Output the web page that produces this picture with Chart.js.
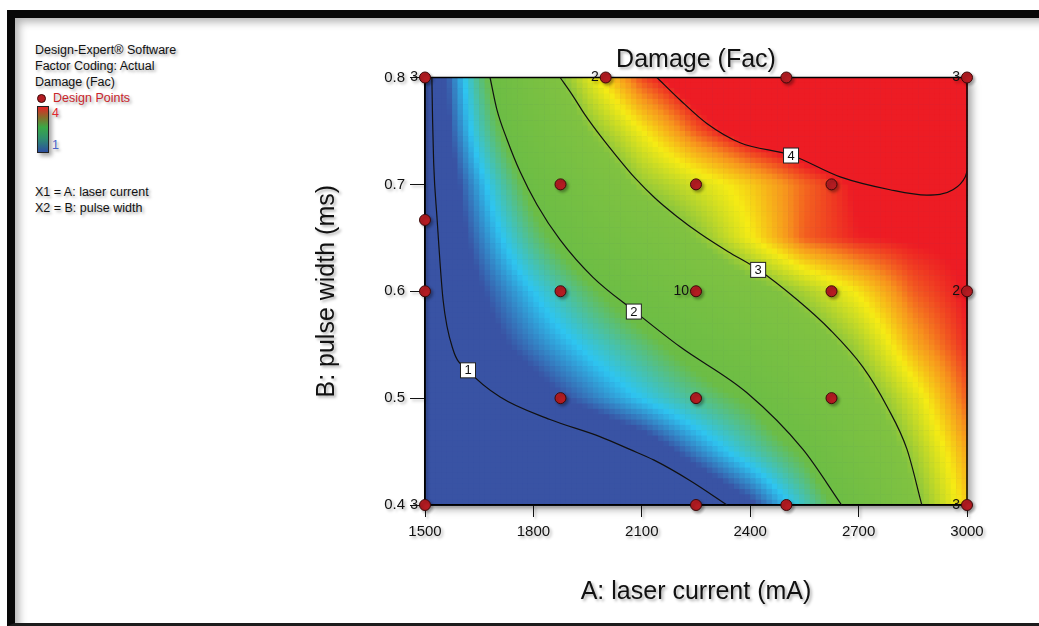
<!DOCTYPE html>
<html>
<head>
<meta charset="utf-8">
<script src="https://cdn.jsdelivr.net/npm/chart.js@4"></script>
<style>
html, body { margin: 0; padding: 0; background: #fff; }
body { width: 1039px; height: 626px; position: relative; overflow: hidden; font-family: "Liberation Sans", Arial, sans-serif; }
#marco { position: absolute; left: 7px; top: 10px; right: -20px; bottom: 0; border-top: 8px solid #080808; border-left: 8px solid #080808; border-bottom: 3px solid #1c1c1c; box-shadow: inset 7px 7px 9px -3px rgba(0,0,0,0.3); }
#lienzo { position: absolute; left: 0; top: 0; }
.nota { position: absolute; left: 35px; font-size: 12.5px; line-height: 16px; color: #111; white-space: nowrap; text-shadow: 2px 2px 3px rgba(0,0,0,0.35); }
#punto { position: absolute; left: 37px; top: 94px; width: 7px; height: 7px; border-radius: 50%; background: #b41c22; border: 1px solid #3c0a0a; }
#barra { position: absolute; left: 37px; top: 106px; width: 10px; height: 45px; border: 1px solid #222;
  background: linear-gradient(to bottom, #e52528 0%, #8a6a2a 22%, #3aa946 45%, #2f8f6e 70%, #2c4ea0 100%);
  box-shadow: 3px 3px 4px rgba(0,0,0,0.35); }
</style>
</head>
<body>
<div id="marco"></div>
<div class="nota" style="top:42px">Design-Expert® Software</div>
<div class="nota" style="top:58px">Factor Coding: Actual</div>
<div class="nota" style="top:74px">Damage (Fac)</div>
<div id="punto"></div>
<div class="nota" style="top:90px; left:53px; color:#c9252b">Design Points</div>
<div id="barra"></div>
<div class="nota" style="top:105px; left:52px; color:#e0282e">4</div>
<div class="nota" style="top:137px; left:52px; color:#4a64c8">1</div>
<div class="nota" style="top:184px">X1 = A: laser current</div>
<div class="nota" style="top:200px">X2 = B: pulse width</div>
<canvas id="lienzo" width="1039" height="626"></canvas>

<script>
// ejes de la rejilla (A = corriente, B = ancho de pulso)
const ejeA = [1500, 1650, 1800, 1950, 2100, 2250, 2400, 2550, 2700, 2850, 3000];
const ejeB = [0.4, 0.45, 0.5, 0.55, 0.6, 0.65, 0.7, 0.75, 0.8];
// valores estimados de Damage, una fila por cada valor de ejeB
const danio = [
    [0.50, 0.55, 0.60, 0.68, 0.78, 0.90, 1.20, 1.67, 2.21, 2.89, 3.50],
    [0.60, 0.68, 0.78, 0.88, 1.05, 1.37, 1.68, 1.99, 2.53, 3.07, 3.62],
    [0.75, 0.92, 1.12, 1.34, 1.56, 1.78, 1.99, 2.40, 2.82, 3.28, 3.80],
    [0.90, 1.12, 1.36, 1.60, 1.84, 2.11, 2.42, 2.74, 3.10, 3.60, 3.92],
    [0.90, 1.22, 1.55, 1.88, 2.19, 2.50, 2.80, 3.11, 3.43, 3.80, 3.97],
    [0.88, 1.35, 1.82, 2.24, 2.61, 2.97, 3.39, 3.80, 3.94, 3.97, 3.98],
    [0.87, 1.47, 2.06, 2.58, 3.04, 3.27, 3.50, 3.78, 3.98, 3.97, 4.02],
    [0.88, 1.67, 2.34, 2.96, 3.39, 3.81, 4.10, 4.22, 4.28, 4.28, 4.25],
    [0.88, 1.81, 2.61, 3.29, 3.85, 4.15, 4.30, 4.38, 4.42, 4.42, 4.38]
];

const ticksA = [1500, 1800, 2100, 2400, 2700, 3000];
const ticksB = [0.4, 0.5, 0.6, 0.7, 0.8];

// puntos de diseno
const puntosA = [1500, 2000, 2500, 3000, 1500, 1875, 2250, 2625, 1500, 1875, 2250, 2625, 3000, 1875, 2250, 2625, 1500, 2250, 2500, 3000];
const puntosB = [0.8, 0.8, 0.8, 0.8, 0.6667, 0.7, 0.7, 0.7, 0.6, 0.6, 0.6, 0.6, 0.6, 0.5, 0.5, 0.5, 0.4, 0.4, 0.4, 0.4];
const repeticiones = ['3', '2', '', '3', '', '', '', '', '', '', '10', '', '2', '', '', '', '3', '', '', '3'];

// curvas de nivel
const contorno1A = [1519, 1521, 1524, 1533, 1550, 1578, 1619, 1708, 1846, 1984, 2067, 2134, 2233, 2336];
const contorno1B = [0.8, 0.760, 0.720, 0.670, 0.592, 0.545, 0.526, 0.501, 0.480, 0.464, 0.452, 0.442, 0.423, 0.4];
const contorno2A = [1680, 1699, 1727, 1763, 1810, 1874, 1965, 2081, 2206, 2391, 2546, 2653];
const contorno2B = [0.8, 0.770, 0.742, 0.712, 0.681, 0.648, 0.613, 0.581, 0.548, 0.505, 0.452, 0.4];
const contorno3A = [1874, 1907, 1943, 1984, 2031, 2081, 2137, 2197, 2261, 2339, 2419, 2530, 2621, 2712, 2779, 2834, 2875];
const contorno3B = [0.8, 0.784, 0.765, 0.746, 0.726, 0.706, 0.687, 0.670, 0.654, 0.637, 0.621, 0.592, 0.564, 0.529, 0.492, 0.452, 0.4];
const contorno4A = [2142, 2206, 2280, 2372, 2516, 2649, 2787, 2889, 2961, 2995, 3000];
const contorno4B = [0.8, 0.779, 0.757, 0.739, 0.727, 0.707, 0.695, 0.690, 0.695, 0.707, 0.712];

const nivelesContorno = ['1', '2', '3', '4'];
const etiquetasA = [1619, 2078, 2422, 2513];
const etiquetasB = [0.526, 0.581, 0.620, 0.727];

// escala de color (valor -> color)
const paradasColor = [1.25, 1.55, 1.95, 2.95, 3.4, 3.68, 3.95];
const coloresEscala = ['#3953a4', '#2ec5f1', '#6cbd45', '#80c241', '#f6eb14', '#f7941d', '#ed1c24'];

const fuente = '"Liberation Sans", Arial, sans-serif';

function hexARgb(h) {
    return [parseInt(h.substr(1, 2), 16), parseInt(h.substr(3, 2), 16), parseInt(h.substr(5, 2), 16)];
}
const rgbEscala = coloresEscala.map(hexARgb);

function colorDe(v) {
    if (v <= paradasColor[0]) return coloresEscala[0];
    const n = paradasColor.length;
    if (v >= paradasColor[n - 1]) return coloresEscala[n - 1];
    let k = 0;
    while (v > paradasColor[k + 1]) k++;
    const t = (v - paradasColor[k]) / (paradasColor[k + 1] - paradasColor[k]);
    const c0 = rgbEscala[k], c1 = rgbEscala[k + 1];
    return 'rgb(' + c0.map((c, i) => Math.round(c + (c1[i] - c) * t)).join(',') + ')';
}

function buscar(eje, v) {
    let k = 0;
    while (k < eje.length - 2 && v > eje[k + 1]) k++;
    const t = Math.min(1, Math.max(0, (v - eje[k]) / (eje[k + 1] - eje[k])));
    return [k, t];
}

function valorEn(a, b) {
    const [i, ta] = buscar(ejeA, a);
    const [j, tb] = buscar(ejeB, b);
    const v0 = danio[j][i] * (1 - ta) + danio[j][i + 1] * ta;
    const v1 = danio[j + 1][i] * (1 - ta) + danio[j + 1][i + 1] * ta;
    return v0 * (1 - tb) + v1 * tb;
}

function sombra(ctx, activa) {
    ctx.shadowColor = activa ? 'rgba(0,0,0,0.32)' : 'rgba(0,0,0,0)';
    ctx.shadowBlur = activa ? 3 : 0;
    ctx.shadowOffsetX = activa ? 2 : 0;
    ctx.shadowOffsetY = activa ? 2 : 0;
}

const superficie = {
    id: 'superficie',
    beforeDraw(chart) {
        const { ctx, chartArea: a, scales: { x, y } } = chart;
        ctx.save();
        ctx.shadowColor = 'rgba(0,0,0,0.35)';
        ctx.shadowBlur = 8;
        ctx.shadowOffsetX = 5;
        ctx.shadowOffsetY = 4;
        ctx.fillStyle = coloresEscala[0];
        ctx.fillRect(a.left, a.top, a.width, a.height);
        sombra(ctx, false);

        const nC = 100, nR = 80;
        const cw = a.width / nC, ch = a.height / nR;
        for (let i = 0; i < nC; i++) {
            const va = x.getValueForPixel(a.left + (i + 0.5) * cw);
            for (let j = 0; j < nR; j++) {
                const vb = y.getValueForPixel(a.top + (j + 0.5) * ch);
                ctx.fillStyle = colorDe(valorEn(va, vb));
                ctx.fillRect(a.left + i * cw, a.top + j * ch, cw + 0.6, ch + 0.6);
            }
        }
        ctx.strokeStyle = '#000';
        ctx.lineWidth = 1.5;
        ctx.strokeRect(a.left, a.top, a.width, a.height);
        ctx.restore();
        sombra(ctx, true);
    },
    beforeDatasetDraw(chart, args) {
        sombra(chart.ctx, args.index === chart.data.datasets.length - 1);
    },
    afterDatasetsDraw(chart) {
        const { ctx, scales: { x, y } } = chart;
        ctx.save();
        sombra(ctx, true);
        ctx.fillStyle = '#111';
        ctx.font = '14px ' + fuente;
        ctx.textAlign = 'right';
        ctx.textBaseline = 'middle';
        repeticiones.forEach((r, i) => {
            if (!r) return;
            ctx.fillText(r, x.getPixelForValue(puntosA[i]) - 7, y.getPixelForValue(puntosB[i]));
        });
        sombra(ctx, false);
        ctx.font = '13px ' + fuente;
        ctx.textAlign = 'center';
        nivelesContorno.forEach((t, i) => {
            const px = x.getPixelForValue(etiquetasA[i]);
            const py = y.getPixelForValue(etiquetasB[i]);
            ctx.fillStyle = '#fff';
            ctx.fillRect(px - 7.5, py - 7.5, 15, 15);
            ctx.strokeStyle = '#222';
            ctx.lineWidth = 1;
            ctx.strokeRect(px - 7.5, py - 7.5, 15, 15);
            ctx.fillStyle = '#111';
            ctx.fillText(t, px, py + 0.5);
        });
        ctx.restore();
    }
};

function serie(as, bs) {
    return as.map((a, i) => ({ x: a, y: bs[i] }));
}

const curvas = [[contorno1A, contorno1B], [contorno2A, contorno2B], [contorno3A, contorno3B], [contorno4A, contorno4B]];

new Chart(document.getElementById('lienzo'), {
    type: 'scatter',
    data: {
        datasets: [
            ...curvas.map(([as, bs], i) => ({
                label: 'Damage = ' + nivelesContorno[i],
                data: serie(as, bs),
                showLine: true,
                borderColor: '#111',
                borderWidth: 1.2,
                pointRadius: 0,
                cubicInterpolationMode: 'monotone'
            })),
            {
                label: 'Design Points',
                data: serie(puntosA, puntosB),
                showLine: false,
                pointRadius: 5.5,
                pointBackgroundColor: '#b41c22',
                pointBorderColor: '#3c0a0a',
                pointBorderWidth: 1,
                clip: false
            }
        ]
    },
    options: {
        responsive: false,
        animation: false,
        events: [],
        layout: { padding: { left: 300, right: 72, top: 0, bottom: 0 } },
        plugins: {
            legend: { display: false },
            tooltip: { enabled: false },
            title: {
                display: true,
                text: 'Damage (Fac)',
                fullSize: false,
                color: '#111',
                font: { family: fuente, size: 25, weight: 'normal' },
                padding: { top: 45, bottom: 2.5 }
            }
        },
        scales: {
            x: {
                type: 'linear',
                min: 1500,
                max: 3000,
                afterBuildTicks: s => { s.ticks = ticksA.map(v => ({ value: v })); },
                afterFit: s => { s.height = 121; },
                ticks: { color: '#111', font: { family: fuente, size: 15 }, padding: 6, maxRotation: 0, callback: v => String(v) },
                grid: { drawOnChartArea: false, tickLength: 12, color: '#111', lineWidth: 1 },
                border: { color: '#000', width: 1.5 },
                title: {
                    display: true,
                    text: 'A: laser current (mA)',
                    color: '#111',
                    font: { family: fuente, size: 25 },
                    padding: { top: 0, bottom: 19 }
                }
            },
            y: {
                type: 'linear',
                min: 0.4,
                max: 0.8,
                afterBuildTicks: s => { s.ticks = ticksB.map(v => ({ value: v })); },
                afterFit: s => { s.width = 125; },
                ticks: { color: '#111', font: { family: fuente, size: 15 }, padding: 5, callback: v => v.toFixed(1) },
                grid: { drawOnChartArea: false, tickLength: 15, color: '#111', lineWidth: 1 },
                border: { color: '#000', width: 1.5 },
                title: {
                    display: true,
                    text: 'B: pulse width (ms)',
                    color: '#111',
                    font: { family: fuente, size: 25 },
                    padding: { top: 12, bottom: 0 }
                }
            }
        }
    },
    plugins: [superficie]
});
</script>
</body>
</html>
